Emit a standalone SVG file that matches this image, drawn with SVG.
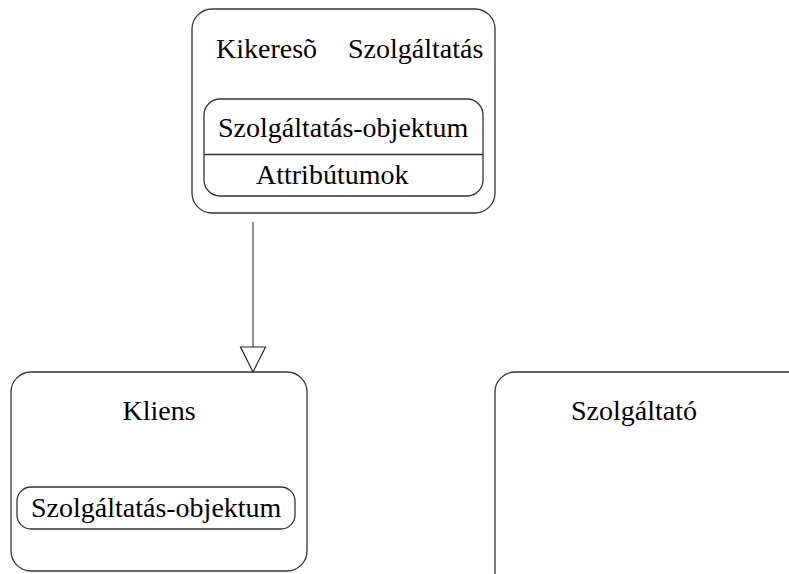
<svg xmlns="http://www.w3.org/2000/svg" width="789" height="574" viewBox="0 0 789 574">
<style>
.box{fill:#fff;stroke:#333;stroke-width:1.3}
.t{font-family:"Liberation Serif","Times New Roman",serif;font-size:28px;fill:#000}
.edge{fill:none;stroke:#555;stroke-width:1.3}
.head{fill:#fff;stroke:#222;stroke-width:1.2}
</style>
<rect width="789" height="574" fill="#fff"/>
<g id="kereso">
<rect class="box" x="192" y="9" width="303" height="204" rx="20"/>
<text class="t" x="216" y="58">Kikeresõ</text>
<text class="t" x="348" y="58">Szolgáltatás</text>
<rect class="box" x="204" y="99" width="279" height="97" rx="16"/>
<line x1="204" y1="154.5" x2="483" y2="154.5" stroke="#333" stroke-width="1.3"/>
<text class="t" x="218" y="137">Szolgáltatás-objektum</text>
<text class="t" x="256" y="184">Attribútumok</text>
</g>
<g id="kliens">
<rect class="box" x="11" y="372" width="296" height="199" rx="20"/>
<text class="t" x="159" y="420" text-anchor="middle">Kliens</text>
<rect class="box" x="17" y="487" width="278" height="42" rx="14"/>
<text class="t" x="31" y="517">Szolgáltatás-objektum</text>
</g>
<g id="szolgaltato">
<rect class="box" x="495" y="372" width="320" height="230" rx="20"/>
<text class="t" x="571" y="420">Szolgáltató</text>
</g>
<g id="connectors">
<line class="edge" x1="253" y1="222" x2="253" y2="372"/>
<path class="head" d="M240.5,347 L265.5,347 L253,372 Z"/>
</g>
</svg>
